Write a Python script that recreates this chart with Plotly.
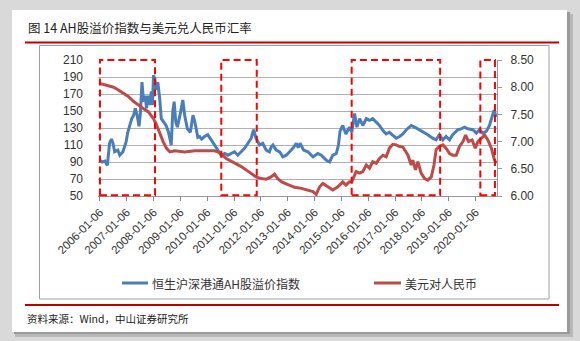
import datetime as dt
import plotly.graph_objects as go

# ---------------- data ----------------
# AH premium index (left axis); time as fractional year
ah_t = [2006.00, 2006.10, 2006.20, 2006.29, 2006.37, 2006.44, 2006.50, 2006.56, 2006.68,
        2006.75, 2006.87, 2006.99, 2007.05, 2007.12, 2007.20, 2007.27, 2007.33, 2007.40,
        2007.47, 2007.52, 2007.58, 2007.64, 2007.70, 2007.75, 2007.80, 2007.87, 2007.93,
        2007.97, 2008.01, 2008.06, 2008.11, 2008.17, 2008.24, 2008.30, 2008.40, 2008.48,
        2008.57, 2008.67, 2008.73, 2008.78, 2008.84, 2008.90, 2009.02, 2009.10, 2009.17,
        2009.27, 2009.38, 2009.48, 2009.55, 2009.66, 2009.73, 2009.80, 2009.91, 2010.03,
        2010.16, 2010.28, 2010.41, 2010.53, 2010.66, 2010.78, 2010.90, 2011.03, 2011.15,
        2011.28, 2011.40, 2011.53, 2011.65, 2011.74, 2011.83, 2011.96, 2012.08, 2012.21,
        2012.33, 2012.40, 2012.46, 2012.58, 2012.71, 2012.83, 2012.96, 2013.08, 2013.20,
        2013.33, 2013.40, 2013.47, 2013.60, 2013.76, 2013.95, 2014.13, 2014.26, 2014.45,
        2014.57, 2014.69, 2014.82, 2014.90, 2014.96, 2015.06, 2015.18, 2015.31, 2015.40,
        2015.50, 2015.59, 2015.69, 2015.81, 2015.94, 2016.06, 2016.18, 2016.31, 2016.43,
        2016.56, 2016.68, 2016.80, 2016.93, 2017.05, 2017.18, 2017.30, 2017.43, 2017.61,
        2017.74, 2017.86, 2018.05, 2018.23, 2018.41, 2018.54, 2018.66, 2018.79, 2018.91,
        2019.04, 2019.16, 2019.35, 2019.47, 2019.60, 2019.72, 2019.91, 2020.04, 2020.16,
        2020.28, 2020.41, 2020.53, 2020.62, 2020.70, 2020.78]
ah_v = [92, 90, 91, 86, 112, 117, 112, 102, 104,
        98, 102, 114, 125, 133, 141, 145, 153, 145,
        132, 147, 184, 161, 168, 153, 168, 157, 173,
        157, 192, 188, 175, 184, 165, 141, 137, 133,
        125, 110, 150, 161, 137, 131, 149, 163, 145,
        129, 125, 145, 137, 119, 120, 117, 120, 122,
        116, 110, 104, 98, 100, 98, 100, 102, 98,
        102, 106, 112, 118, 128, 118, 110, 112, 104,
        102, 108, 110, 104, 102, 96, 98, 102, 106,
        112, 107, 112, 104, 102, 96, 100, 98, 92,
        90, 98, 100, 110, 126, 133, 123, 131, 125,
        147, 131, 141, 133, 141, 139, 141, 137, 133,
        127, 123, 125, 121, 118, 120, 123, 128, 133,
        131, 129, 125, 122, 118, 116, 122, 116, 120,
        116, 122, 128, 129, 131, 129, 128, 124, 128,
        124, 126, 133, 143, 151, 143]

# USD / CNY (right axis)
fx_t = [2006.00, 2006.26, 2006.52, 2006.70, 2006.89, 2007.07, 2007.26, 2007.44, 2007.63,
        2007.81, 2008.00, 2008.12, 2008.24, 2008.37, 2008.49, 2008.62, 2008.80, 2009.17,
        2009.55, 2010.28, 2010.41, 2010.53, 2010.72, 2010.90, 2011.09, 2011.28, 2011.46,
        2011.65, 2011.83, 2012.02, 2012.21, 2012.39, 2012.52, 2012.64, 2012.79, 2013.02,
        2013.27, 2013.52, 2013.76, 2013.95, 2014.07, 2014.20, 2014.32, 2014.51, 2014.69,
        2014.88, 2015.06, 2015.18, 2015.31, 2015.40, 2015.46, 2015.56, 2015.69, 2015.81,
        2015.94, 2016.06, 2016.18, 2016.31, 2016.43, 2016.56, 2016.68, 2016.80, 2016.93,
        2017.05, 2017.18, 2017.30, 2017.49, 2017.61, 2017.67, 2017.77, 2017.86, 2017.98,
        2018.11, 2018.23, 2018.36, 2018.46, 2018.54, 2018.66, 2018.79, 2018.91, 2019.04,
        2019.16, 2019.29, 2019.41, 2019.54, 2019.64, 2019.75, 2019.88, 2020.00, 2020.10,
        2020.22, 2020.35, 2020.47, 2020.60, 2020.72, 2020.78]
fx_v = [8.07, 8.03, 8.00, 7.95, 7.89, 7.83, 7.74, 7.67, 7.61,
        7.55, 7.43, 7.31, 7.15, 7.00, 6.88, 6.81, 6.83, 6.81,
        6.83, 6.83, 6.81, 6.77, 6.69, 6.64, 6.60, 6.54, 6.48,
        6.42, 6.35, 6.32, 6.31, 6.35, 6.40, 6.32, 6.26, 6.21,
        6.16, 6.14, 6.11, 6.08, 6.03, 6.17, 6.23, 6.17, 6.11,
        6.17, 6.26, 6.20, 6.26, 6.26, 6.32, 6.45, 6.42, 6.45,
        6.57, 6.51, 6.63, 6.60, 6.69, 6.75, 6.72, 6.88, 6.95,
        6.94, 6.91, 6.90, 6.75, 6.57, 6.66, 6.48, 6.63, 6.42,
        6.32, 6.29, 6.35, 6.57, 6.85, 6.91, 6.94, 6.88, 6.78,
        6.75, 6.75, 6.91, 7.00, 7.12, 7.00, 7.03, 6.88, 7.00,
        7.06, 7.12, 7.03, 6.88, 6.66, 6.60]

tick_labels = ["2006-01-06", "2007-01-06", "2008-01-06", "2009-01-06", "2010-01-06",
               "2011-01-06", "2012-01-06", "2013-01-06", "2014-01-06", "2015-01-06",
               "2016-01-06", "2017-01-06", "2018-01-06", "2019-01-06", "2020-01-06"]
left_ticks = [50, 70, 90, 110, 130, 150, 170, 190, 210]
right_ticks = [6.0, 6.5, 7.0, 7.5, 8.0, 8.5]
right_labels = ["6.00", "6.50", "7.00", "7.50", "8.00", "8.50"]

# highlighted periods (dashed boxes)
box_periods = [("2006-01-06", "2008-01-25"), ("2010-07-15", "2011-11-10"),
               ("2015-05-25", "2018-09-10"), ("2020-03-10", "2020-09-25")]

name_ah = "恒生沪深港通AH股溢价指数"
name_fx = "美元对人民币"
title_text = "图 14 AH股溢价指数与美元兑人民币汇率"
source_text = "资料来源：Wind，中山证券研究所"


def yf(y):
    base = dt.datetime(int(y), 1, 1)
    return base + dt.timedelta(days=(y - int(y)) * 365.25)


ah_dates = [yf(t) for t in ah_t]
fx_dates = [yf(t) for t in fx_t]

# ---------------- layout geometry (pixels) ----------------
W, H = 580, 341
PL, PR, PT, PB = 98, 497, 60, 196  # plot area
pw, ph = PR - PL, PB - PT


def px(x):
    return (x - PL) / pw


def py(y):
    return (PB - y) / ph


BLUE = "#4A7EBB"
RED = "#BE4B48"
CJK = "Noto Sans CJK SC"
NUM = "Liberation Sans, Arial"

fig = go.Figure()
fig.add_trace(go.Scatter(x=ah_dates, y=ah_v, mode="lines", name=name_ah,
                         line=dict(color=BLUE, width=3), yaxis="y"))
fig.add_trace(go.Scatter(x=fx_dates, y=fx_v, mode="lines", name=name_fx,
                         line=dict(color=RED, width=3), yaxis="y2"))

shapes = []
# shadow + white card
shapes.append(dict(type="rect", xref="paper", yref="paper", x0=px(15), x1=px(573),
                   y0=py(14), y1=py(337), fillcolor="#b9b9b9", line_width=0, layer="below"))
shapes.append(dict(type="rect", xref="paper", yref="paper", x0=px(14), x1=px(570),
                   y0=py(12), y1=py(334), fillcolor="#9a9a9a", line_width=0, layer="below"))
shapes.append(dict(type="rect", xref="paper", yref="paper", x0=px(12), x1=px(567),
                   y0=py(10), y1=py(332), fillcolor="white", line_width=0, layer="below"))
# red rules
for yy in (42.5, 305):
    shapes.append(dict(type="line", xref="paper", yref="paper", x0=px(25), x1=px(559),
                       y0=py(yy), y1=py(yy), line=dict(color="#C00000", width=2)))
# inner chart frame
shapes.append(dict(type="rect", xref="paper", yref="paper", x0=px(39.5), x1=px(549),
                   y0=py(45.5), y1=py(299), line=dict(color="#A0A0A0", width=1),
                   fillcolor="rgba(0,0,0,0)", layer="below"))
# dashed highlight boxes
for a, b in box_periods:
    shapes.append(dict(type="rect", xref="x", yref="paper", x0=a, x1=b, y0=0.005, y1=1.0,
                       line=dict(color="#FF0000", width=2, dash="7px,4px"),
                       fillcolor="rgba(0,0,0,0)", layer="above"))
# legend samples
shapes.append(dict(type="line", xref="paper", yref="paper", x0=px(122), x1=px(148),
                   y0=py(283), y1=py(283), line=dict(color=BLUE, width=3)))
shapes.append(dict(type="line", xref="paper", yref="paper", x0=px(374), x1=px(401),
                   y0=py(283), y1=py(283), line=dict(color=RED, width=3)))

annotations = [
    dict(text=title_text, x=px(26), y=py(27), xref="paper", yref="paper", showarrow=False,
         xanchor="left", yanchor="middle", font=dict(family=CJK, size=12.5, color="#222222")),
    dict(text=name_ah, x=px(150), y=py(283), xref="paper", yref="paper", showarrow=False,
         xanchor="left", yanchor="middle", font=dict(family=CJK, size=12, color="#333333")),
    dict(text=name_fx, x=px(403), y=py(283), xref="paper", yref="paper", showarrow=False,
         xanchor="left", yanchor="middle", font=dict(family=CJK, size=12, color="#333333")),
    dict(text=source_text, x=px(25), y=py(318), xref="paper", yref="paper", showarrow=False,
         xanchor="left", yanchor="middle", font=dict(family=CJK, size=10.5, color="#222222")),
]

fig.update_layout(
    width=W, height=H,
    margin=dict(l=PL, r=W - PR, t=PT, b=H - PB, pad=0),
    paper_bgcolor="#d9d9d9",
    plot_bgcolor="rgba(0,0,0,0)",
    showlegend=False,
    shapes=shapes,
    annotations=annotations,
    xaxis=dict(
        type="date",
        range=[yf(2005.94), yf(2020.81)],
        tickvals=[dt.datetime(int(s[:4]), 1, 6) for s in tick_labels],
        ticktext=tick_labels,
        tickangle=-45,
        ticks="outside", ticklen=4, tickcolor="#888888",
        showline=True, linecolor="#999999", linewidth=1,
        showgrid=False, zeroline=False,
        tickfont=dict(family=NUM, size=11.5, color="#333333"),
    ),
    yaxis=dict(
        range=[50, 210], tickvals=left_ticks,
        showgrid=True, gridcolor="#B0B0B0", gridwidth=1,
        ticks="", showline=False, zeroline=False,
        ticklabelstandoff=14,
        tickfont=dict(family=NUM, size=12, color="#333333"),
    ),
    yaxis2=dict(
        range=[6.0, 8.5], tickvals=right_ticks, ticktext=right_labels,
        overlaying="y", side="right",
        showgrid=False, zeroline=False,
        showline=True, linecolor="#999999", linewidth=1,
        ticks="outside", ticklen=4, tickcolor="#999999",
        ticklabelstandoff=6,
        tickfont=dict(family=NUM, size=12, color="#333333"),
    ),
)

fig.write_html("out.html")
